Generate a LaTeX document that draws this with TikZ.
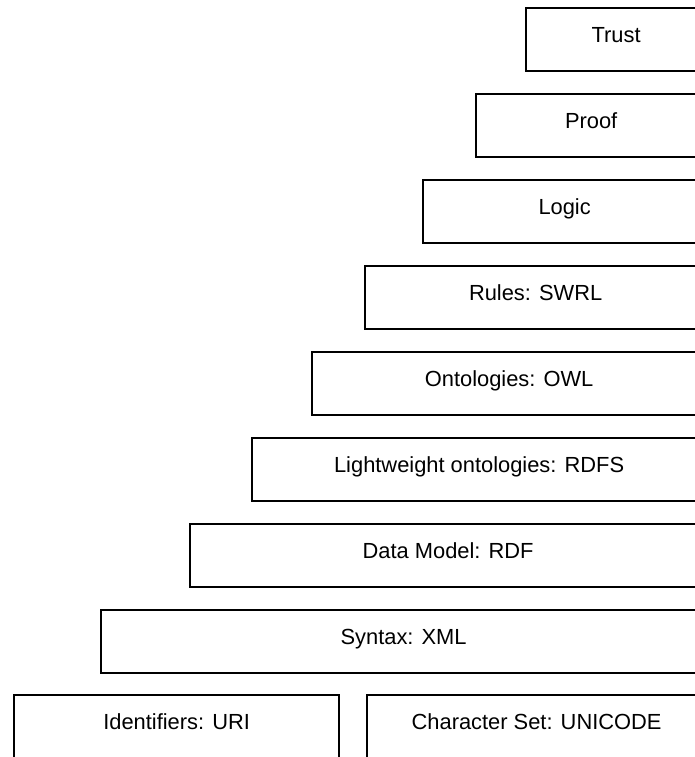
\documentclass[tikz,border=0pt]{standalone}
\usepackage{fontspec}
\setmainfont{Liberation Sans}
\begin{document}
\begin{tikzpicture}[x=0.75pt, y=-0.75pt,
  layer/.style={draw, line width=1.7pt, inner sep=0pt, anchor=north west,
    minimum height=47.25pt, text height=11.7pt, text depth=7.55pt,
    font=\fontsize{16.4pt}{19pt}\selectfont},
  baselayer/.style={layer, minimum height=60pt, text depth=20.3pt}]
  \useasboundingbox (0,0) rectangle (695,757);
  \clip (0,0) rectangle (695,757);
  % stack of layers, each one wider than the one above
  \node[layer, minimum width=135pt]    (trust) at (525,7)   {Trust};
  \node[layer, minimum width=172.5pt]  (proof) at (475,93)  {Proof};
  \node[layer, minimum width=212.25pt] (logic) at (422,179) {Logic};
  \node[layer, minimum width=255.75pt] (rules) at (364,265) {Rules: SWRL};
  \node[layer, minimum width=295.5pt]  (owl)   at (311,351) {Ontologies: OWL};
  \node[layer, minimum width=340.5pt]  (rdfs)  at (251,437) {Lightweight ontologies: RDFS};
  \node[layer, minimum width=387pt]    (rdf)   at (189,523) {Data Model: RDF};
  \node[layer, minimum width=453.75pt] (xml)   at (100,609) {Syntax: XML};
  % foundation: two side-by-side blocks
  \node[baselayer, minimum width=243.75pt] (uri)     at (13,694)  {Identifiers: URI};
  \node[baselayer, minimum width=254.25pt] (unicode) at (366,694) {Character Set: UNICODE};
\end{tikzpicture}
\end{document}
